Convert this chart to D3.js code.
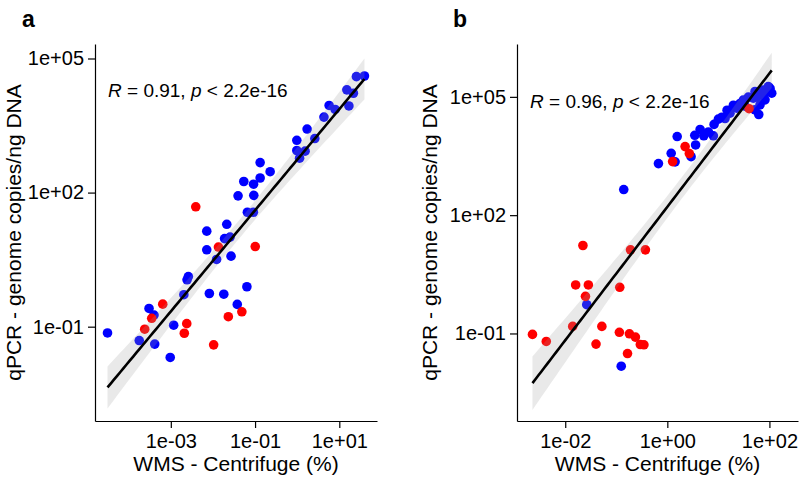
<!DOCTYPE html>
<html><head><meta charset="utf-8">
<script src="https://cdn.jsdelivr.net/npm/d3@7"></script>
<style>
body{margin:0;background:#fff}
svg text{font-family:"Liberation Sans",Arial,sans-serif;fill:#000}
</style>
</head><body>
<svg id="chart" width="800" height="477"></svg>
<script>
// ---------------- DATA ----------------
// Panel a
const aBlueX = [39.5,25.5,15.1,21.6,16.9,5.73,7.96,4.32,1.72,2.62,0.98,0.98,1.54,1.14,0.132,0.228,0.132,0.054,0.092,0.0395,0.0933,0.0658,0.0912,0.0213,0.00713,0.0189,0.0255,0.00713,0.0269,0.0122,0.00261,0.00243,0.00204,0.00822,0.0181,0.064,0.0378,0.000304,0.000399,0.00117,0.0000314,0.000178,0.000415,0.000968];
const aBlueY = [40600,39200,19900,16700,8670,8890,7240,4890,2640,1620,1480,875,845,590,469,293,212,177,154,84.5,86.7,36.3,36.3,19.5,13.7,9.35,10.1,5.25,3.78,3.19,1.32,1.12,0.52,0.552,0.533,0.782,0.315,0.256,0.182,0.108,0.0724,0.0489,0.0408,0.0205];
const aRedX = [0.00391,0.0135,0.101,0.0486,0.0232,0.000643,0.000352,0.00024,0.00239,0.00209,0.0104];
const aRedY = [48.1,6.05,6.21,0.215,0.167,0.319,0.154,0.0879,0.117,0.0713,0.0392];
// Panel b
const bBlueX = [0.140,0.670,1.19,1.42,1.56,2.92,3.58,3.45,4.39,5.18,6.37,7.98,8.24,11.7,13.5,10.0,16.9,19.7,22.9,26.6,30.8,38.6,48.4,52.2,56.4,65.5,76.0,88.5,103,111,95.1,61.8,52.2,65.5,82.0,0.0264,0.125,14.8,33.3];
const bBlueY = [446,2030,3710,2250,9860,3050,6030,10600,14900,10300,12900,10300,20000,30500,28200,27200,38500,61500,51600,68100,82600,98400,92700,137000,100000,112000,148000,134000,164000,124000,182000,35700,46800,62700,83900,0.537,0.0148,45900,58100];
const bRedX = [1.27,2.23,2.70,39.9,0.0222,0.190,0.372,0.0160,0.0284,0.117,0.0249,0.0140,0.0522,0.00228,0.00425,0.0401,0.115,0.181,0.237,0.296,0.348,0.166];
const bRedY = [2280,5480,3640,50100,17.0,13.2,13.2,1.70,1.70,1.48,0.873,0.151,0.151,0.0948,0.0627,0.0537,0.107,0.0982,0.0809,0.0525,0.0516,0.031];

const yTicks = [1e-1, 1e2, 1e5];
const yTickLabels = ["1e-01", "1e+02", "1e+05"];
const aXTicks = [1e-3, 1e-1, 1e1];
const aXTickLabels = ["1e-03", "1e-01", "1e+01"];
const bXTicks = [1e-2, 1, 1e2];
const bXTickLabels = ["1e-02", "1e+00", "1e+02"];
const panelLetters = ["a", "b"];
const corR = ["0.91", "0.96"];
const corP = ["2.2e-16", "2.2e-16"];
const xTitle = "WMS - Centrifuge (%)";
const yTitle = "qPCR - genome copies/ng DNA";

// ---------------- DRAW ----------------
const svg = d3.select("#chart");
const BLUE = "#0000ff", RED = "#ff0000";

function tq975(df){ // Cornish-Fisher approximation of t quantile
  const z = 1.959964;
  return z + (z**3 + z)/(4*df) + (5*z**5 + 16*z**3 + 3*z)/(96*df*df);
}

function drawPanel(cfg, idx){
  const g = svg.append("g");
  const x = d3.scaleLog().domain(cfg.xDomain).range([cfg.left, cfg.right]);
  const y = d3.scaleLog().domain(cfg.yDomain).range([cfg.bottom, cfg.top]);

  const clipId = "clip" + idx;
  svg.append("clipPath").attr("id", clipId).append("rect")
    .attr("x", cfg.left).attr("y", cfg.top)
    .attr("width", cfg.right - cfg.left).attr("height", cfg.bottom - cfg.top);
  const plot = g.append("g").attr("clip-path", `url(#${clipId})`);

  const blue = cfg.blueX.map((v,i)=>({x:v, y:cfg.blueY[i], c:BLUE}));
  const red = cfg.redX.map((v,i)=>({x:v, y:cfg.redY[i], c:RED}));
  const all = blue.concat(red);

  plot.selectAll("circle.pt").data(all).join("circle")
    .attr("class","pt")
    .attr("cx", d=>x(d.x)).attr("cy", d=>y(d.y))
    .attr("r", 4.8).attr("fill", d=>d.c);

  // linear regression in log-log space
  const lx = all.map(d=>Math.log10(d.x)), ly = all.map(d=>Math.log10(d.y));
  const n = lx.length;
  const mx = d3.mean(lx), my = d3.mean(ly);
  let sxx=0, sxy=0;
  for(let i=0;i<n;i++){ sxx += (lx[i]-mx)**2; sxy += (lx[i]-mx)*(ly[i]-my); }
  const b = sxy/sxx, a = my - b*mx;
  let sse = 0;
  for(let i=0;i<n;i++){ sse += (ly[i]-(a+b*lx[i]))**2; }
  const s = Math.sqrt(sse/(n-2));
  const t = tq975(n-2);
  const [x0, x1] = d3.extent(lx);
  const grid = d3.range(0, 81).map(k => x0 + (x1-x0)*k/80);
  const fitPts = grid.map(v => {
    const f = a + b*v;
    const se = s*Math.sqrt(1/n + (v-mx)**2/sxx);
    return {x: Math.pow(10, v), f: Math.pow(10, f), lo: Math.pow(10, f - t*se), hi: Math.pow(10, f + t*se)};
  });

  plot.append("path").datum(fitPts)
    .attr("d", d3.area().x(d=>x(d.x)).y0(d=>y(d.lo)).y1(d=>y(d.hi)))
    .attr("fill", "#999999").attr("fill-opacity", 0.22);
  plot.append("path").datum(fitPts)
    .attr("d", d3.line().x(d=>x(d.x)).y(d=>y(d.f)))
    .attr("fill", "none").attr("stroke", "#000").attr("stroke-width", 2.6);

  // axes
  const xa = g.append("g").attr("transform", `translate(0,${cfg.bottom})`)
    .call(d3.axisBottom(x).tickValues(cfg.xTicks).tickFormat((d,i)=>cfg.xTickLabels[i])
      .tickSize(7).tickSizeOuter(0).tickPadding(6));
  const ya = g.append("g").attr("transform", `translate(${cfg.left},0)`)
    .call(d3.axisLeft(y).tickValues(yTicks).tickFormat((d,i)=>yTickLabels[i])
      .tickSize(7).tickSizeOuter(0).tickPadding(4));
  [xa, ya].forEach(ax => {
    ax.attr("font-size", null).attr("font-family", null);
    ax.selectAll("text").style("font-size", "20px").attr("fill", "#000");
    ax.selectAll("path,line").attr("stroke", "#000").attr("stroke-width", 1.2);
  });

  // titles
  g.append("text").attr("x", (cfg.left+cfg.right)/2).attr("y", 471)
    .attr("text-anchor", "middle").style("font-size", "21px").text(xTitle);
  g.append("text").attr("transform", `translate(${cfg.yTitleX},${(cfg.top+cfg.bottom)/2}) rotate(-90)`)
    .attr("text-anchor", "middle").style("font-size", "21px").text(yTitle);

  // panel letter
  g.append("text").attr("x", cfg.letterX).attr("y", 27)
    .style("font-size", "23px").style("font-weight", "bold").text(panelLetters[idx]);

  // correlation label
  const lab = g.append("text").attr("x", cfg.rX).attr("y", cfg.rY).style("font-size", "19px");
  lab.append("tspan").style("font-style", "italic").text("R");
  lab.append("tspan").text(` = ${corR[idx]}, `);
  lab.append("tspan").style("font-style", "italic").text("p");
  lab.append("tspan").text(` < ${corP[idx]}`);
}

drawPanel({
  left: 95, right: 377, top: 44, bottom: 421,
  xDomain: [1.585e-5, 78.5], yDomain: [7.76e-4, 2.11e5],
  blueX: aBlueX, blueY: aBlueY, redX: aRedX, redY: aRedY,
  xTicks: aXTicks, xTickLabels: aXTickLabels,
  yTitleX: 21, letterX: 22, rX: 108, rY: 97
}, 0);

drawPanel({
  left: 517, right: 798, top: 44, bottom: 421,
  xDomain: [1.135e-3, 363], yDomain: [6.03e-4, 2.19e6],
  blueX: bBlueX, blueY: bBlueY, redX: bRedX, redY: bRedY,
  xTicks: bXTicks, xTickLabels: bXTickLabels,
  yTitleX: 437, letterX: 453, rX: 530, rY: 108
}, 1);
</script>
</body></html>
